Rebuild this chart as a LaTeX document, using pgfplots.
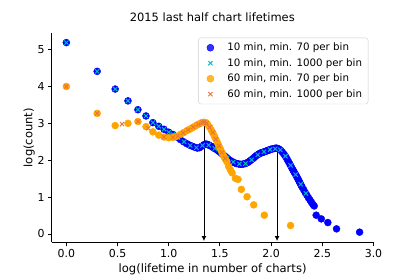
\documentclass[border=0pt]{standalone}
\usepackage{fontspec}
\setmainfont{DejaVu Sans}
\usepackage{pgfplots}
\pgfplotsset{compat=1.18}
\usetikzlibrary{arrows.meta}
\definecolor{mblue}{HTML}{0000FF}
\definecolor{mcyan}{HTML}{00BFBF}
\definecolor{morange}{HTML}{FFA500}
\definecolor{mxorange}{HTML}{E8743A}
\begin{document}
\begin{tikzpicture}
\useasboundingbox (-51.7bp,-34.7bp) rectangle (363.3bp,242.3bp);
\begin{axis}[
  at={(0,0)}, anchor=south west,
  scale only axis, width=321.8bp, height=209.3bp,
  xmin=-0.143, xmax=3.0, ymin=-0.225, ymax=5.45,
  axis x line*=bottom, axis y line*=left,
  axis line style={line width=0.85bp},
  tick align=outside, major tick length=3.7bp,
  every tick/.style={line width=0.85bp, black},
  xtick={0,0.5,1,1.5,2,2.5,3},
  xticklabels={0.0,0.5,1.0,1.5,2.0,2.5,3.0},
  ytick={0,1,2,3,4,5},
  /pgf/number format/assume math mode=true,
  tick label style={font=\fontsize{11}{12}\selectfont},
  xlabel={log(lifetime in number of charts)},
  ylabel={log(count)},
  label style={font=\fontsize{11.6}{14}\selectfont},
  xlabel style={at={(axis description cs:0.5,-0.145)}, anchor=base},
  ylabel style={at={(axis description cs:-0.0696,0.5)}, anchor=center, rotate=0},
  title={2015 last half chart lifetimes},
  title style={at={(axis description cs:0.499,1.049)}, anchor=center, font=\fontsize{11.5}{13}\selectfont},
  legend cell align=left,
  every axis plot post/.append style={
    legend image code/.code={\path[draw=none,fill=none] (0bp,0bp) -- (23bp,0bp); \draw[#1, only marks] plot coordinates {(8bp,0bp)};}},
  legend style={at={(1,1)}, anchor=north east, xshift=-5.2bp, yshift=-4.7bp,
    draw=black!20, rounded corners=2.5bp, fill=white, fill opacity=0.8, text opacity=1,
    font=\fontsize{10.3}{12}\selectfont, inner xsep=4bp, inner ysep=3.2bp,
    row sep=2.2bp},
  clip=false,
]
% 10 min, min. 70 per bin
\addplot[only marks, mark=*, mark size=3.5bp, color=mblue] coordinates {
(0.000,5.19)(0.301,4.41)(0.477,3.93)(0.602,3.61)(0.699,3.37)(0.778,3.20)(0.845,3.02)(0.903,2.92)(0.954,2.84)
(1.000,2.76)(1.041,2.70)(1.079,2.63)(1.114,2.56)(1.146,2.50)(1.176,2.45)(1.204,2.41)(1.230,2.38)(1.255,2.35)
(1.279,2.33)(1.301,2.34)(1.322,2.38)(1.342,2.42)(1.362,2.44)(1.380,2.43)(1.398,2.40)(1.415,2.38)(1.431,2.35)
(1.447,2.32)(1.462,2.30)(1.477,2.27)(1.491,2.24)(1.505,2.21)(1.519,2.18)(1.531,2.15)(1.544,2.12)(1.556,2.09)
(1.568,2.06)(1.580,2.03)(1.591,2.01)(1.602,1.99)(1.623,1.96)(1.643,1.93)(1.663,1.91)(1.681,1.90)(1.699,1.89)
(1.716,1.89)(1.732,1.90)(1.748,1.91)(1.763,1.93)(1.778,1.95)(1.792,1.98)(1.806,2.01)(1.820,2.04)(1.833,2.07)
(1.845,2.10)(1.857,2.13)(1.869,2.15)(1.881,2.17)(1.892,2.19)(1.903,2.20)(1.914,2.21)(1.924,2.22)(1.934,2.23)
(1.944,2.24)(1.954,2.25)(1.964,2.26)(1.973,2.27)(1.982,2.28)(1.991,2.29)(2.000,2.30)(2.017,2.31)(2.033,2.32)
(2.049,2.33)(2.064,2.32)(2.079,2.30)(2.093,2.27)(2.107,2.23)(2.121,2.18)(2.134,2.13)(2.146,2.08)(2.158,2.02)
(2.170,1.96)(2.182,1.90)(2.193,1.84)(2.204,1.78)(2.215,1.73)(2.225,1.68)(2.236,1.63)(2.246,1.58)(2.255,1.53)
(2.265,1.48)(2.274,1.43)(2.283,1.38)(2.292,1.33)(2.301,1.28)(2.318,1.20)(2.334,1.12)(2.350,1.05)(2.365,0.98)
(2.380,0.92)(2.394,0.86)(2.408,0.80)(2.421,0.76)(2.440,0.51)(2.490,0.41)(2.554,0.31)(2.639,0.14)(2.864,0.05)
};
\addlegendentry{10 min, min. 70 per bin}
% 10 min, min. 1000 per bin
\addplot[only marks, mark=x, mark size=3bp, color=mcyan, mark options={line width=0.9bp}] coordinates {
(0.000,5.19)(0.301,4.41)(0.477,3.93)(0.602,3.61)(0.699,3.37)(0.778,3.20)(0.845,3.02)(0.903,2.92)(0.954,2.84)
(1.000,2.76)(1.041,2.70)(1.090,2.61)(1.150,2.50)(1.210,2.40)(1.270,2.34)(1.330,2.40)(1.390,2.41)(1.450,2.32)
(1.510,2.20)(1.570,2.06)(1.630,1.95)(1.690,1.90)(1.750,1.91)(1.810,2.01)(1.870,2.15)(1.930,2.23)(1.990,2.29)
(2.040,2.31)(2.090,2.28)(2.140,2.11)(2.190,1.86)(2.240,1.61)(2.290,1.35)(2.340,1.10)
};
\addlegendentry{10 min, min. 1000 per bin}
% 60 min, min. 70 per bin
\addplot[only marks, mark=*, mark size=3.5bp, color=morange] coordinates {
(0.000,4.00)(0.301,3.27)(0.477,2.94)(0.602,3.00)(0.699,3.05)(0.778,2.91)(0.845,2.77)(0.903,2.68)(0.954,2.63)
(1.000,2.61)(1.041,2.62)(1.079,2.65)(1.114,2.70)(1.146,2.75)(1.176,2.80)(1.204,2.84)(1.230,2.88)(1.255,2.92)
(1.279,2.96)(1.301,2.99)(1.322,3.02)(1.342,3.03)(1.362,3.02)(1.380,2.97)(1.398,2.90)(1.415,2.82)(1.431,2.74)
(1.447,2.65)(1.462,2.56)(1.477,2.47)(1.491,2.38)(1.505,2.30)(1.519,2.22)(1.531,2.14)(1.544,2.08)(1.556,2.02)
(1.568,1.96)(1.585,1.83)(1.602,1.74)(1.618,1.66)(1.651,1.51)(1.677,1.48)(1.709,1.21)(1.765,1.01)(1.830,0.79)
(1.934,0.51)(2.190,0.23)
};
\addlegendentry{60 min, min. 70 per bin}
% 60 min, min. 1000 per bin
\addplot[only marks, mark=x, mark size=3bp, color=mxorange, mark options={line width=0.9bp}] coordinates {
(0.000,4.00)(0.301,3.27)(0.544,2.98)(0.699,3.05)(0.800,2.87)(0.954,2.63)(1.041,2.62)(1.090,2.66)(1.140,2.74)
(1.190,2.82)(1.240,2.90)(1.290,2.97)(1.330,3.02)(1.350,3.03)(1.370,3.00)(1.400,2.89)(1.430,2.75)(1.460,2.57)
(1.490,2.39)(1.520,2.21)(1.550,2.05)
};
\addlegendentry{60 min, min. 1000 per bin}
% arrows
\addplot[black, line width=0.85bp, -{Latex[length=5bp,width=5bp]}, forget plot] coordinates {(1.344,3.0) (1.344,-0.19)};
\addplot[black, line width=0.85bp, -{Latex[length=5bp,width=5bp]}, forget plot] coordinates {(2.058,2.3) (2.058,-0.19)};
\end{axis}
\end{tikzpicture}
\end{document}
